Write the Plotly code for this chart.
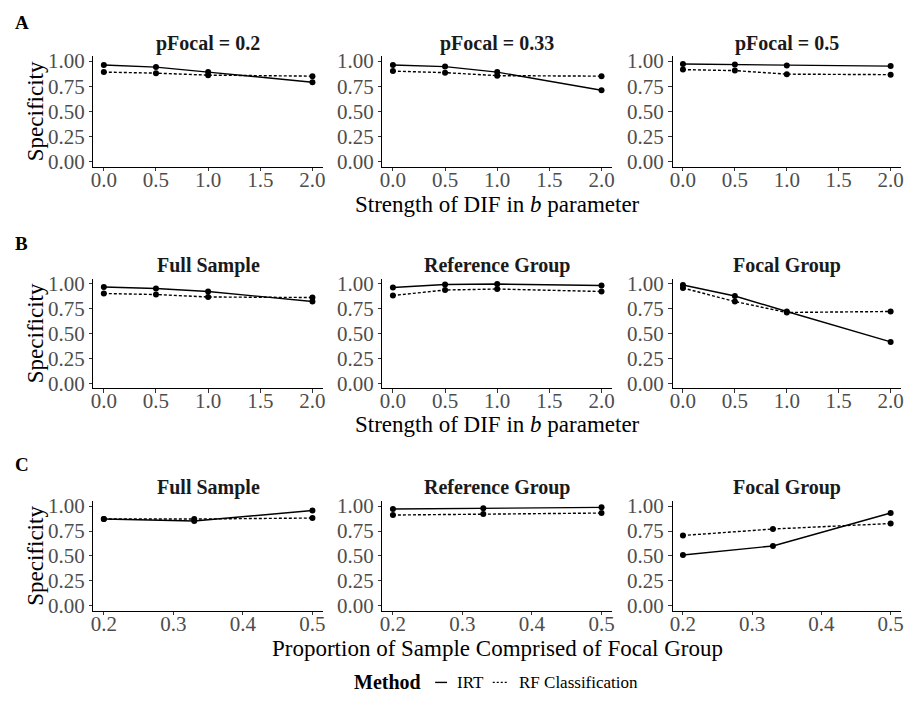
import plotly.graph_objects as go

# ---- data -------------------------------------------------------------
dif_levels = [0.0, 0.5, 1.0, 2.0]
pfocal_levels = [0.2, 0.33, 0.5]

dif_ticks = [0.0, 0.5, 1.0, 1.5, 2.0]
dif_ticktext = ["0.0", "0.5", "1.0", "1.5", "2.0"]
pfocal_ticks = [0.2, 0.3, 0.4, 0.5]
pfocal_ticktext = ["0.2", "0.3", "0.4", "0.5"]
spec_ticks = [0.0, 0.25, 0.5, 0.75, 1.0]
spec_ticktext = ["0.00", "0.25", "0.50", "0.75", "1.00"]

# Row A: specificity by DIF strength, split by pFocal
irt_pf02 = [0.96, 0.94, 0.89, 0.79]
rf_pf02 = [0.89, 0.88, 0.86, 0.85]
irt_pf033 = [0.96, 0.945, 0.89, 0.71]
rf_pf033 = [0.90, 0.885, 0.855, 0.85]
irt_pf05 = [0.97, 0.965, 0.955, 0.95]
rf_pf05 = [0.915, 0.905, 0.87, 0.865]

# Row B: specificity by DIF strength, split by sample
irt_full_dif = [0.965, 0.95, 0.92, 0.82]
rf_full_dif = [0.90, 0.89, 0.865, 0.86]
irt_ref_dif = [0.96, 0.99, 0.995, 0.98]
rf_ref_dif = [0.88, 0.935, 0.945, 0.92]
irt_foc_dif = [0.985, 0.875, 0.72, 0.415]
rf_foc_dif = [0.955, 0.82, 0.71, 0.72]

# Row C: specificity by focal proportion, split by sample
irt_full_p = [0.87, 0.85, 0.955]
rf_full_p = [0.87, 0.87, 0.88]
irt_ref_p = [0.97, 0.977, 0.987]
rf_ref_p = [0.91, 0.92, 0.93]
irt_foc_p = [0.51, 0.60, 0.93]
rf_foc_p = [0.705, 0.77, 0.825]

row_letters = ["A", "B", "C"]
strip_titles = [
    ["pFocal = 0.2", "pFocal = 0.33", "pFocal = 0.5"],
    ["Full Sample", "Reference Group", "Focal Group"],
    ["Full Sample", "Reference Group", "Focal Group"],
]
x_titles = [
    "Strength of DIF in <i>b</i> parameter",
    "Strength of DIF in <i>b</i> parameter",
    "Proportion of Sample Comprised of Focal Group",
]
y_title = "Specificity"
method_names = ["IRT", "RF Classification"]

panels = [
    [(dif_levels, irt_pf02, rf_pf02), (dif_levels, irt_pf033, rf_pf033), (dif_levels, irt_pf05, rf_pf05)],
    [(dif_levels, irt_full_dif, rf_full_dif), (dif_levels, irt_ref_dif, rf_ref_dif), (dif_levels, irt_foc_dif, rf_foc_dif)],
    [(pfocal_levels, irt_full_p, rf_full_p), (pfocal_levels, irt_ref_p, rf_ref_p), (pfocal_levels, irt_foc_p, rf_foc_p)],
]

# ---- layout geometry (pixels) -------------------------------------------
W, H = 909, 710
FONT = "Liberation Serif, Times New Roman, serif"
col_px = [(91, 322), (382, 613), (674, 904)]
row_px = [(50, 163), (277, 389), (504, 616)]
strip_y = [37, 264, 490]
letter_y = [16, 241, 467]
xtitle_y = [201, 426, 654]


def px_x(v):
    return v / W


def px_y(v):
    return 1 - v / H


fig = go.Figure()
layout = dict(
    width=W, height=H,
    margin=dict(l=0, r=0, t=0, b=0),
    paper_bgcolor="white", plot_bgcolor="white",
    showlegend=False,
    font=dict(family=FONT, color="black"),
)
annotations = []
shapes = []

axis_common = dict(
    showgrid=False, zeroline=False, showline=True,
    linecolor="black", linewidth=1.1,
    ticks="outside", ticklen=3.5, tickwidth=1, tickcolor="#333333",
    tickfont=dict(family=FONT, size=21, color="#4D4D4D"),
    fixedrange=True,
)

k = 0
for r in range(3):
    for c in range(3):
        k += 1
        xs, irt, rf = panels[r][c]
        xname = "x" if k == 1 else f"x{k}"
        yname = "y" if k == 1 else f"y{k}"
        xl, xr = col_px[c]
        yt, yb = row_px[r]
        if r < 2:
            xrange = [-0.1, 2.1]
            tv, tt = dif_ticks, dif_ticktext
        else:
            xrange = [0.185, 0.515]
            tv, tt = pfocal_ticks, pfocal_ticktext
        layout["xaxis" if k == 1 else f"xaxis{k}"] = dict(
            axis_common, domain=[px_x(xl), px_x(xr)], range=xrange,
            tickvals=tv, ticktext=tt, anchor=yname, ticklabelstandoff=-10,
        )
        layout["yaxis" if k == 1 else f"yaxis{k}"] = dict(
            axis_common, domain=[px_y(yb), px_y(yt)], range=[-0.05, 1.05],
            tickvals=spec_ticks, ticktext=spec_ticktext, anchor=xname,
        )
        fig.add_trace(go.Scatter(
            x=xs, y=irt, xaxis=xname, yaxis=yname, name=method_names[0],
            mode="lines+markers",
            line=dict(color="black", width=1.4),
            marker=dict(color="black", size=6),
        ))
        fig.add_trace(go.Scatter(
            x=xs, y=rf, xaxis=xname, yaxis=yname, name=method_names[1],
            mode="lines+markers",
            line=dict(color="black", width=1.4, dash="3px,2px"),
            marker=dict(color="black", size=6),
        ))
        # facet title
        annotations.append(dict(
            text=f"<b>{strip_titles[r][c]}</b>", xref="paper", yref="paper",
            x=px_x((xl + xr) / 2), y=px_y(strip_y[r]),
            xanchor="center", yanchor="middle", showarrow=False,
            font=dict(family=FONT, size=20, color="#1A1A1A"),
        ))
    # row letter
    annotations.append(dict(
        text=f"<b>{row_letters[r]}</b>", xref="paper", yref="paper",
        x=px_x(10), y=px_y(letter_y[r]), xanchor="left", yanchor="middle",
        showarrow=False, font=dict(family=FONT, size=19, color="black"),
    ))
    # y axis title
    annotations.append(dict(
        text=y_title, xref="paper", yref="paper", textangle=-90,
        x=px_x(33), y=px_y((row_px[r][0] + row_px[r][1]) / 2),
        xanchor="center", yanchor="middle", showarrow=False,
        font=dict(family=FONT, size=23, color="black"),
    ))
    # x axis title
    annotations.append(dict(
        text=x_titles[r], xref="paper", yref="paper",
        x=px_x((col_px[0][0] + col_px[2][1]) / 2), y=px_y(xtitle_y[r]),
        xanchor="center", yanchor="middle", showarrow=False,
        font=dict(family=FONT, size=23, color="black"),
    ))

# ---- legend --------------------------------------------------------------
leg_y = 689
annotations.append(dict(
    text="<b>Method</b>", xref="paper", yref="paper",
    x=px_x(351), y=px_y(leg_y), xanchor="left", yanchor="middle",
    showarrow=False, font=dict(family=FONT, size=20, color="black"),
))
annotations.append(dict(
    text=method_names[0], xref="paper", yref="paper",
    x=px_x(455), y=px_y(leg_y), xanchor="left", yanchor="middle",
    showarrow=False, font=dict(family=FONT, size=17, color="black"),
))
annotations.append(dict(
    text=method_names[1], xref="paper", yref="paper",
    x=px_x(517), y=px_y(leg_y), xanchor="left", yanchor="middle",
    showarrow=False, font=dict(family=FONT, size=17, color="black"),
))
shapes.append(dict(
    type="line", xref="paper", yref="paper",
    x0=px_x(435), x1=px_x(447), y0=px_y(leg_y), y1=px_y(leg_y),
    line=dict(color="black", width=1.4),
))
shapes.append(dict(
    type="line", xref="paper", yref="paper",
    x0=px_x(493), x1=px_x(508), y0=px_y(leg_y), y1=px_y(leg_y),
    line=dict(color="black", width=1.4, dash="2px,2px"),
))

layout["annotations"] = annotations
layout["shapes"] = shapes
fig.update_layout(**layout)
fig.write_html("out.html")
